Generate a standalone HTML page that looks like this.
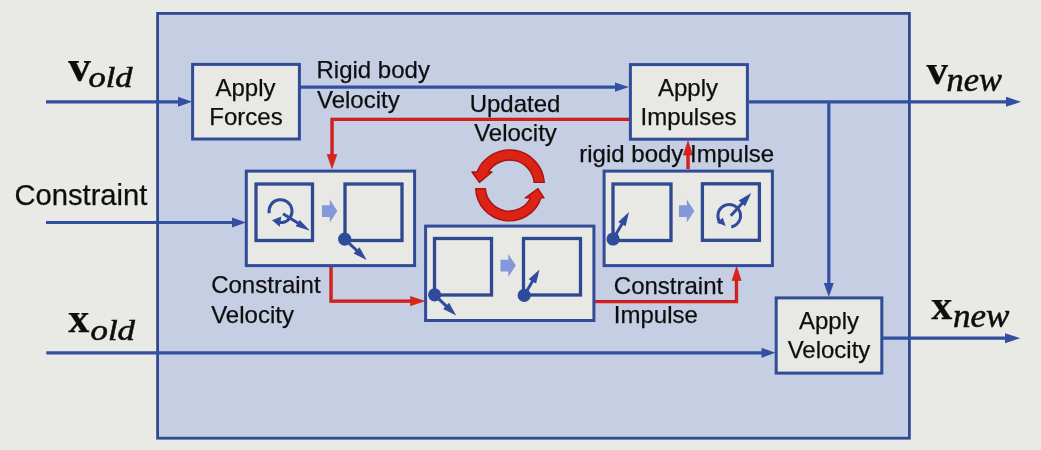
<!DOCTYPE html>
<html><head><meta charset="utf-8">
<style>
html,body{margin:0;padding:0;background:#e9e9e6;}
body{width:1041px;height:450px;overflow:hidden;position:relative;font-family:"Liberation Sans",sans-serif;}
svg{position:absolute;left:0;top:0;}
text{font-family:"Liberation Sans",sans-serif;fill:#111;stroke:#111;stroke-width:0.25px;}
.s[font-style]{stroke-width:0.55px;}
.s{font-family:"Liberation Serif",serif;}
</style></head><body>
<svg width="1041" height="450" viewBox="0 0 1041 450">
<defs>
<filter id="b" x="-5%" y="-5%" width="110%" height="110%"><feGaussianBlur stdDeviation="0.55"/></filter>
</defs>
<rect width="1041" height="450" fill="#e9e9e6"/>
<g filter="url(#b)">
<!-- outer -->
<rect x="157.6" y="13.4" width="751.8" height="424.8" fill="#c5cee2" stroke="#324a94" stroke-width="2.8"/>

<!-- blue lines -->
<g stroke="#3350a2" stroke-width="3.2" fill="none">
<path d="M46 101.8H182"/>
<path d="M46 222.5H236"/>
<path d="M46.3 352.9H765"/>
<path d="M300 87.1H619"/>
<path d="M749 101.8H1009"/>
<path d="M828.8 101.8V285"/>
<path d="M883 338.2H1007"/>
</g>
<g fill="#3350a2">
<path d="M178 96.8L192 101.8L178 106.8Z"/>
<path d="M232 217.5L246 222.5L232 227.5Z"/>
<path d="M761.5 347.8L775.5 352.8L761.5 357.8Z"/>
<path d="M615 82.4L629 87.1L615 91.8Z"/>
<path d="M1006 96.8L1021 101.8L1006 106.8Z"/>
<path d="M1005 333.2L1020.3 338.2L1005 343.2Z"/>
<path d="M823.8 283L828.8 297L833.8 283Z"/>
</g>

<!-- red lines -->
<g stroke="#c51d1a" stroke-width="3.3" fill="none">
<path id="r1" d="M630 119.3H332V158"/>
<path id="r2" d="M331 266V301.1H414"/>
<path id="r3" d="M595 301.7H736.5V278"/>
<path id="r4" d="M688 169V152"/>
</g>
<g stroke="#de231f" stroke-width="1.6" fill="none" transform="translate(0.5 0.5)">
<use href="#r1"/><use href="#r2"/><use href="#r3"/><use href="#r4"/>
</g>
<g fill="#dc201c" stroke="#c81e1b" stroke-width="0.6">
<path d="M327.2 154.5L332 168.5L336.8 154.5Z"/>
<path d="M410.5 296.5L424.5 301.1L410.5 305.7Z"/>
<path d="M732 280.5L736.6 266.8L741.2 280.5Z"/>
<path d="M683.4 155L688 141L692.6 155Z"/>
</g>

<!-- boxes -->
<g fill="#e8e9e4" stroke="#324c98" stroke-width="3">
<rect x="192.6" y="64.4" width="106.8" height="74.6"/>
<rect x="630.4" y="64.6" width="117" height="74.6"/>
<rect x="776.2" y="297.9" width="105.6" height="75.2"/>
<rect x="246.3" y="171.1" width="168.3" height="94.5"/>
<rect x="425.6" y="226.1" width="168.3" height="94.4"/>
<rect x="604.1" y="171.1" width="168.3" height="94.5"/>
</g>
<g fill="#e8e9e4" stroke="#2f4890" stroke-width="3.3">
<rect x="256" y="184" width="56.5" height="56.5"/>
<rect x="345" y="184" width="57" height="56.5"/>
<rect x="434.5" y="238.5" width="57" height="56.5"/>
<rect x="523.5" y="238.5" width="57" height="56.5"/>
<rect x="613" y="184" width="58" height="56.5"/>
<rect x="702.4" y="183.8" width="57" height="56.5"/>
</g>

<!-- light arrows -->
<g fill="#8397d9">
<path id="la" d="M322 205.3H329.8V199.6L337.3 211L329.8 222.6V216.9H322Z"/>
<path d="M500.5 259.8H508.3V254.1L515.8 265.6L508.3 277.100V271.400H500.5Z"/>
<path d="M679 205.3H686.8V199.6L694.3 211L686.8 222.6V216.9H679Z"/>
</g>

<!-- dots + arrows -->
<g fill="#2f4b9c" stroke="none">
<circle cx="344.7" cy="239.1" r="6.6"/>
<circle cx="434.6" cy="294.8" r="6.6"/>
<circle cx="524.2" cy="295.4" r="6.6"/>
<circle cx="613.1" cy="239" r="6.6"/>
</g>
<g stroke="#2f4b9c" stroke-width="3" fill="none">
<path d="M344.7 239.1L357.3 251.0"/>
<path d="M434.6 294.8L446.8 306.6"/>
<path d="M524.2 295.4L532.9 280.6"/>
<path d="M613.1 239.0L622.4 223.2"/>
<path d="M283.0 213.7L298.6 223.6"/>
<path d="M730.8 215.8L742.6 202.7"/>
<path d="M269.2 213.2A11.5 11.5 0 1 1 282.5 222.5H280"/>
<path d="M731.2 226.9A11.3 11.3 0 1 0 720.8 223.3"/>
</g>
<g fill="#2f4b9c">
<path d="M366.7 260.0L353.6 253.5L359.5 247.2Z"/>
<path d="M456.2 315.6L443.1 309.0L449.1 302.8Z"/>
<path d="M539.5 269.4L536.1 283.6L528.7 279.3Z"/>
<path d="M629.0 212.0L625.6 226.2L618.2 221.9Z"/>
<path d="M310.0 230.8L295.7 226.2L299.8 219.9Z"/>
<path d="M751.3 193.0L745.1 206.3L738.7 200.5Z"/>
<path d="M272 220.2L281.3 216.6L279.8 226.8Z"/>
<path d="M725.7 226L716.8 222.6L722.8 217.8Z"/>
</g>

<!-- circular arrows -->
<g fill="#dd2015" stroke="#a51410" stroke-width="1.4" stroke-linejoin="round">
<path d="M24.7 -2.4H34.8A34.9 34.9 0 0 0 -32.5 -12.8L-37.5 -12.8L-30.1 -2.4L-17.5 -12.8L-21.2 -12.8A24.8 24.8 0 0 1 24.7 -2.4Z" transform="translate(509.5 184.8)"/>
<path d="M24.8 -1.5H34.9A34.9 34.9 0 0 0 -33.1 -11.2L-36.2 -11.2L-30.0 -1.5L-16.5 -11.2L-22.1 -11.2A24.8 24.8 0 0 1 24.8 -1.5Z" transform="translate(509.2 187.2) scale(-0.96)"/>
</g>

<!-- text -->
<g font-size="24">
<text x="245.500" y="95.800" text-anchor="middle">Apply</text>
<text x="246" y="124.500" text-anchor="middle">Forces</text>
<text x="316.500" y="78">Rigid body</text>
<text x="317" y="107.500">Velocity</text>
<text x="515" y="112" text-anchor="middle">Updated</text>
<text x="515.500" y="140.500" text-anchor="middle">Velocity</text>
<text x="688" y="96.200" text-anchor="middle">Apply</text>
<text x="688.500" y="125" text-anchor="middle">Impulses</text>
<text x="579.3" y="162.4">rigid body Impulse</text>
<text x="211.2" y="293.4">Constraint</text>
<text x="211.2" y="323.3">Velocity</text>
<text x="613.8" y="293.5">Constraint</text>
<text x="613.8" y="322.5">Impulse</text>
<text x="829" y="329.400" text-anchor="middle">Apply</text>
<text x="829" y="358.300" text-anchor="middle">Velocity</text>
</g>
<text x="14.4" y="205.4" font-size="29.2">Constraint</text>
<g class="s">
<text x="68.3" y="81" font-size="45" font-weight="bold" class="s">v</text>
<text x="88.5" y="87.2" font-size="28.5" font-style="italic" class="s" textLength="44" lengthAdjust="spacingAndGlyphs">old</text>
<text x="926.5" y="83.8" font-size="43" font-weight="bold" class="s">v</text>
<text x="946.5" y="90.7" font-size="33" font-style="italic" class="s" textLength="55.5" lengthAdjust="spacingAndGlyphs">new</text>
<text x="68.3" y="331.5" font-size="42" font-weight="bold" class="s">x</text>
<text x="90.5" y="339.8" font-size="28.5" font-style="italic" class="s" textLength="44.5" lengthAdjust="spacingAndGlyphs">old</text>
<text x="931.3" y="318.8" font-size="42" font-weight="bold" class="s">x</text>
<text x="953" y="327.3" font-size="33" font-style="italic" class="s" textLength="56.5" lengthAdjust="spacingAndGlyphs">new</text>
</g>
</g>
</svg>
</body></html>
